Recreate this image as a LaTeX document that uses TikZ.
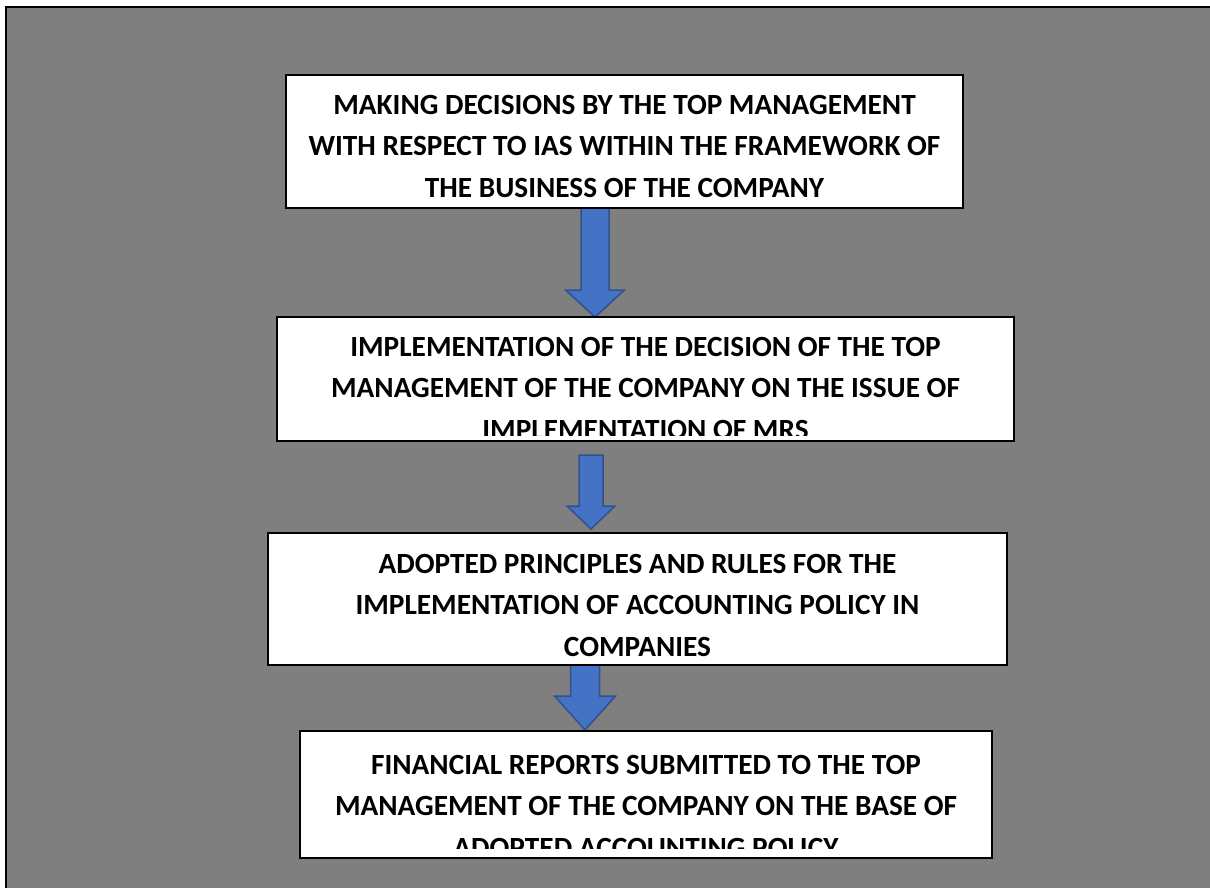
\documentclass[tikz,border=0pt]{standalone}
\usepackage{fontspec}
\setmainfont{Carlito}
\usetikzlibrary{calc}
\definecolor{bggray}{HTML}{7F7F7F}
\definecolor{arrfill}{HTML}{4472C4}
\definecolor{arrline}{HTML}{2F528F}
\tikzset{
  box/.style={draw=black, line width=1.5pt, fill=white, inner sep=0pt, outer sep=0pt},
  boxtext/.style={align=center, inner sep=0pt, anchor=north, text=black,
    font=\bfseries\fontsize{29.3}{41.5}\selectfont},
  blockarrow/.style={fill=arrfill, draw=arrline, line width=1.5pt, line join=miter},
}
\newcommand{\blockarr}[5]{%
  \draw[blockarrow] let \p1=(#1), \p2=(#2) in
    (\x1-#3,\y1) -- (\x1+#3,\y1) -- (\x1+#3,\y2+#5) -- (\x1+#4,\y2+#5) --
    (\x2,\y2) -- (\x1-#4,\y2+#5) -- (\x1-#3,\y2+#5) -- cycle;}
\begin{document}
\begin{tikzpicture}[x=1pt,y=-1pt]
\useasboundingbox (0,0) rectangle (1210,888);
\fill[white] (-5,-5) rectangle (1220,900);
\fill[bggray] (6,7) rectangle (1220,900);
\draw[line width=2pt] (6,900) -- (6,7) -- (1220,7);

% arrows
\coordinate (a1s) at (595,208); \coordinate (a1e) at (595,317);
\coordinate (a2s) at (591,455); \coordinate (a2e) at (591,529);
\coordinate (a3s) at (585,665); \coordinate (a3e) at (585,730);
\blockarr{a1s}{a1e}{14pt}{29.5pt}{27pt}
\blockarr{a2s}{a2e}{12pt}{24pt}{23pt}
\blockarr{a3s}{a3e}{14.5pt}{30.5pt}{34pt}

% boxes
\node[box, minimum width=677pt, minimum height=133pt] (b1) at (624.5,141.5) {};
\node[box, minimum width=737pt, minimum height=124pt] (b2) at (645.5,379) {};
\node[box, minimum width=739pt, minimum height=132pt] (b3) at (637.5,599) {};
\node[box, minimum width=692pt, minimum height=127pt] (b4) at (646,794.5) {};

% texts
\node[boxtext] (t1) at (624.5,95) {MAKING DECISIONS BY THE TOP MANAGEMENT\\WITH RESPECT TO IAS WITHIN THE FRAMEWORK OF\\THE BUSINESS OF THE COMPANY};
\begin{scope}
  \clip (b2.north west) rectangle ($(b2.south east)+(0,-6)$);
  \node[boxtext] (t2) at (645.5,337) {IMPLEMENTATION OF THE DECISION OF THE TOP\\MANAGEMENT OF THE COMPANY ON THE ISSUE OF\\IMPLEMENTATION OF MRS};
\end{scope}
\node[boxtext] (t3) at (637.5,554) {ADOPTED PRINCIPLES AND RULES FOR THE\\IMPLEMENTATION OF ACCOUNTING POLICY IN\\COMPANIES};
\begin{scope}
  \clip (b4.north west) rectangle ($(b4.south east)+(0,-10)$);
  \node[boxtext] (t4) at (646,755) {FINANCIAL REPORTS SUBMITTED TO THE TOP\\MANAGEMENT OF THE COMPANY ON THE BASE OF\\ADOPTED ACCOUNTING POLICY};
\end{scope}
\end{tikzpicture}
\end{document}
